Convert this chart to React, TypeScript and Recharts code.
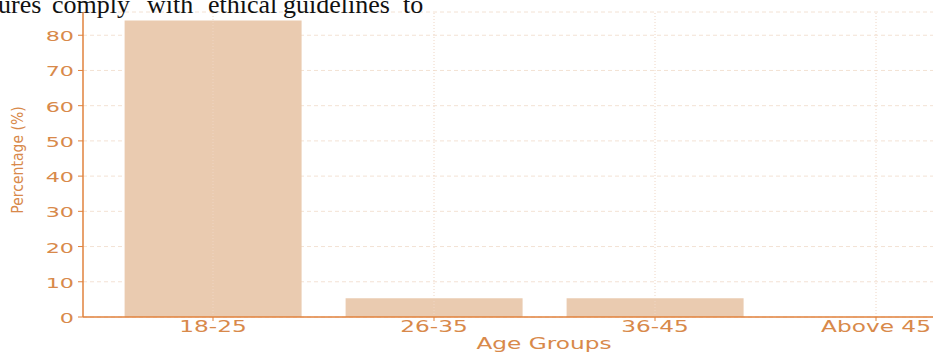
import React from 'react';
import { BarChart, Bar, XAxis, YAxis, CartesianGrid, ReferenceLine } from 'recharts';

const categories = ['18-25', '26-35', '36-45', 'Above 45'];
const percentages = [84.2, 5.3, 5.3, 0];
const yTicks = [0, 10, 20, 30, 40, 50, 60, 70, 80];
const topWords = ['ures', 'comply', 'with', 'ethical', 'guidelines', 'to'];
const topWordX = [-2, 52, 147, 208, 283, 403];

const data = categories.map((c, i) => ({ group: c, pct: percentages[i] }));

const TEXT = '#D8894A';
const AXIS = '#E0823C';

const XTick = (props: any) => {
  const { x, y, payload } = props;
  return (
    <g transform={`translate(${x},${y})`}>
      <text transform="scale(1.5,1)" x={0} y={11} textAnchor="middle" fill={TEXT} fontSize={15.5} fontFamily="DejaVu Sans">
        {payload.value}
      </text>
    </g>
  );
};

const YTick = (props: any) => {
  const { x, y, payload } = props;
  return (
    <g transform={`translate(${x},${y})`}>
      <text transform="scale(1.65,1)" x={0} y={6} textAnchor="end" fill={TEXT} fontSize={13.5} fontFamily="DejaVu Sans">
        {payload.value}
      </text>
    </g>
  );
};

export default function App() {
  return (
    <div style={{ position: 'fixed', left: 0, top: 0, width: 933, height: 352, overflow: 'hidden', background: '#fff' }}>
      <BarChart
        width={1026}
        height={352}
        data={data}
        margin={{ top: 12, right: 20, left: 0, bottom: 0 }}
        barCategoryGap="10%"
      >
        <CartesianGrid vertical={false} stroke="#F3E2D4" strokeDasharray="4 3" />
        <XAxis
          dataKey="group"
          height={35}
          padding={{ left: 19.5, right: 19.5 }}
          tick={<XTick />}
          tickSize={4}
          tickMargin={0}
          axisLine={{ stroke: AXIS, strokeWidth: 1.5 }}
          tickLine={{ stroke: AXIS }}
          interval={0}
        />
        <YAxis
          width={83}
          domain={[0, 86.6]}
          ticks={yTicks}
          allowDataOverflow
          tick={<YTick />}
          tickSize={5}
          tickMargin={4}
          axisLine={{ stroke: AXIS, strokeWidth: 1.5 }}
          tickLine={{ stroke: AXIS }}
        />
        <Bar dataKey="pct" fill="#EACBB0" isAnimationActive={false} />
        {categories.map((c) => (
          <ReferenceLine key={c} x={c} stroke="#EFD6C4" strokeDasharray="1 2" />
        ))}
      </BarChart>
      <svg width={933} height={352} style={{ position: 'absolute', left: 0, top: 0, pointerEvents: 'none' }}>
        <text
          transform="translate(23,160) rotate(-90) scale(1,1.1)"
          textAnchor="middle"
          fill={TEXT}
          fontSize={14}
          fontFamily="DejaVu Sans"
        >
          Percentage (%)
        </text>
        <text transform="translate(544,349) scale(1.55,1)" textAnchor="middle" fill={TEXT} fontSize={15} fontFamily="DejaVu Sans">
          Age Groups
        </text>
        <text y={13} fill="#111" fontSize={26} fontFamily="Liberation Serif">
          {topWords.map((w, i) => (
            <tspan key={w} x={topWordX[i]}>{w}</tspan>
          ))}
        </text>
      </svg>
    </div>
  );
}
